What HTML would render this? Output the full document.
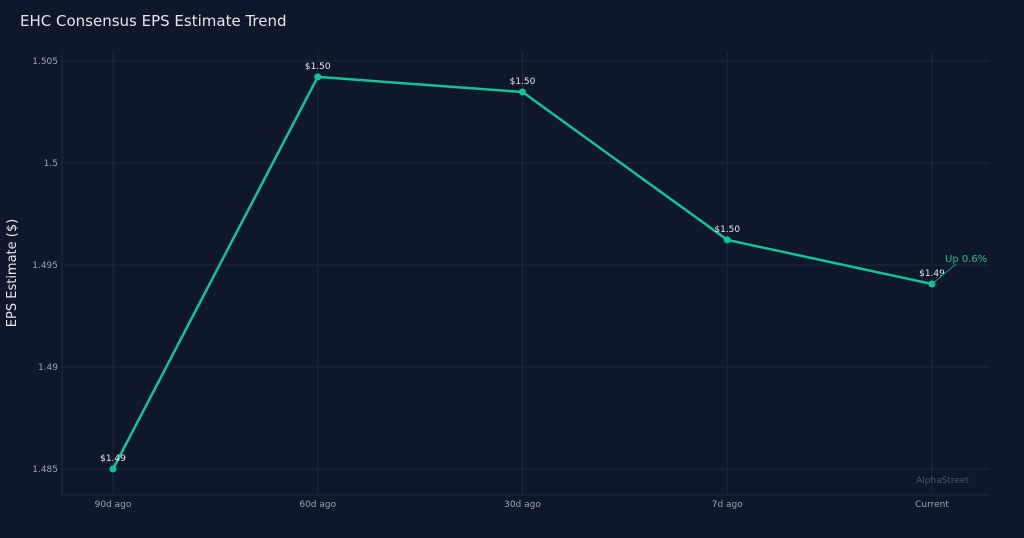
<!DOCTYPE html>
<html><head><meta charset="utf-8"><style>
html,body{margin:0;padding:0;background:#0f172a;}
svg{display:block;font-family:"DejaVu Sans","Liberation Sans",sans-serif;}
</style></head><body>
<svg id="chart" width="1024" height="538" viewBox="0 0 1024 538">
<rect x="0" y="0" width="1024" height="538" fill="#0f172a"/>
<text x="20" y="26" fill="#e5e7eb" font-size="15">EHC Consensus EPS Estimate Trend</text>
<text transform="translate(16,273) rotate(-90)" text-anchor="middle" fill="#e5e7eb" font-size="13">EPS Estimate ($)</text>
<g id="grid"></g><g id="axes"></g><g id="series"></g>
<text x="969" y="483" text-anchor="end" fill="#4b5563" font-size="9">AlphaStreet</text>
</svg>
<script>
const categories = ["90d ago","60d ago","30d ago","7d ago","Current"];
const values = [1.485, 1.50422, 1.50348, 1.49623, 1.49407];
const pointLabels = ["$1.49","$1.50","$1.50","$1.50","$1.49"];
const yTicks = [1.485, 1.49, 1.495, 1.5, 1.505];
const yTickLabels = ["1.485","1.49","1.495","1.5","1.505"];
const annotationText = "Up 0.6%";

const NS="http://www.w3.org/2000/svg";
const L=62,R=989,T=52,B=495;
const x0=113,xStep=204.75;
const xScale=i=>x0+i*xStep;
const yScale=v=>469-(v-1.485)/0.005*102;
function mk(tag,attrs,parent){const e=document.createElementNS(NS,tag);for(const k in attrs)e.setAttribute(k,attrs[k]);parent.appendChild(e);return e;}
const grid=document.getElementById('grid'),axes=document.getElementById('axes'),series=document.getElementById('series');
mk('line',{x1:L,y1:B,x2:R,y2:B,stroke:'#1f2937','stroke-width':1},axes);
mk('line',{x1:L,y1:T,x2:L,y2:B,stroke:'#1f2937','stroke-width':1},axes);
yTicks.forEach((t,i)=>{
  const y=yScale(t);
  const g=mk('line',{x1:L,y1:y,x2:R,y2:y,stroke:'#1e293b','stroke-width':1},grid);
  
  
  const tx=mk('text',{x:58,y:y+3,'text-anchor':'end',fill:'#9ca3af','font-size':9},axes);
  
  
  tx.textContent=yTickLabels[i];
});
categories.forEach((c,i)=>{
  const x=xScale(i);
  const g=mk('line',{x1:x,y1:T,x2:x,y2:B,stroke:'#1e293b','stroke-width':1},grid);
  
  
  const tx=mk('text',{x:x,y:507,'text-anchor':'middle',fill:'#9ca3af','font-size':9},axes);
  
  
  tx.textContent=c;
});
const pts=values.map((v,i)=>xScale(i)+','+yScale(v)).join(' ');
const line=mk('polyline',{points:pts,fill:'none',stroke:'#10c49a','stroke-width':2.5,'stroke-linejoin':'round'},series);


values.forEach((v,i)=>{
  const x=xScale(i),y=yScale(v);
  const c=mk('circle',{cx:x,cy:y,r:3.5,fill:'#10c49a'},series);
  
  
  const t=mk('text',{x:x,y:y-8,'text-anchor':'middle',fill:'#e5e7eb','font-size':9},series);
  
  
  t.textContent=pointLabels[i];
});
const li=values.length-1,ax=xScale(li),ay=yScale(values[li]);
const al=mk('line',{x1:ax,y1:ay,x2:ax+24,y2:ay-20,stroke:'#0f9e7e','stroke-width':1},series);


const at=mk('text',{x:ax+13,y:ay-22,fill:'#10c49a','font-size':10},series);


at.textContent=annotationText;
</script>
</body></html>
